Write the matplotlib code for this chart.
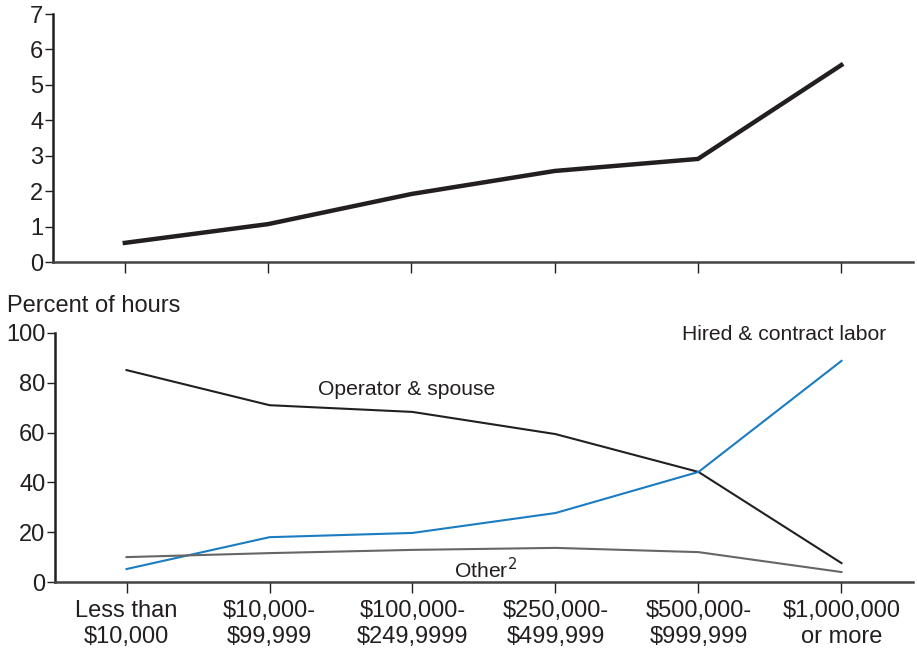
import matplotlib.pyplot as plt

plt.rcParams['font.family'] = ['Liberation Sans', 'DejaVu Sans']

categories = ['Less than\n$10,000', '$10,000-\n$99,999', '$100,000-\n$249,9999',
              '$250,000-\n$499,999', '$500,000-\n$999,999', '$1,000,000\nor more']
top_values = [0.54, 1.07, 1.92, 2.57, 2.91, 5.56]
operator_spouse = [85.1, 71.0, 68.3, 59.4, 44.2, 7.6]
hired_contract = [5.2, 18.0, 19.7, 27.7, 44.2, 88.8]
other = [10.0, 11.6, 12.9, 13.7, 12.0, 4.0]

ink = '#231f20'
x = list(range(len(categories)))

fig = plt.figure(figsize=(9.17, 6.56), dpi=100)

# ---- top panel ----
ax1 = fig.add_axes([0.058, 0.6006, 0.9376, 0.378])
ax1.plot(x, top_values, color=ink, lw=3.2, solid_joinstyle='miter')
ax1.set_xlim(-0.5, 5.5)
ax1.set_ylim(0, 7)
ax1.set_yticks(range(8))
ax1.set_xticks(x)
ax1.set_xticklabels([])

# ---- bottom panel ----
ax2 = fig.add_axes([0.06, 0.1128, 0.9356, 0.3796])
ax2.plot(x, operator_spouse, color=ink, lw=1.5)
ax2.plot(x, hired_contract, color='#1a7cc1', lw=1.5)
ax2.plot(x, other, color='#666666', lw=1.5)
ax2.set_xlim(-0.5, 5.5)
ax2.set_ylim(0, 100)
ax2.set_yticks(range(0, 101, 20))
ax2.set_xticks(x)
ax2.set_xticklabels(categories, fontsize=17, color=ink, linespacing=1.22)

ax2.text(1.96, 77.5, 'Operator & spouse', fontsize=15.2, color=ink, ha='center', va='center')
ax2.text(4.6, 99.5, 'Hired & contract labor', fontsize=15.2, color=ink, ha='center', va='center')
ax2.text(2.51, 5, 'Other$^{2}$', fontsize=15.2, color=ink, ha='center', va='center')
fig.text(0.008, 0.533, 'Percent of hours', fontsize=17, color=ink, ha='left', va='center')

for ax in (ax1, ax2):
    ax.spines['top'].set_visible(False)
    ax.spines['right'].set_visible(False)
    ax.spines['left'].set_linewidth(1.8)
    ax.spines['bottom'].set_linewidth(1.8)
    ax.spines['left'].set_color(ink)
    ax.spines['bottom'].set_color('#444444')
    ax.tick_params(axis='y', direction='out', length=6, width=1, labelsize=17,
                   colors=ink, pad=1)
    ax.tick_params(axis='x', direction='out', length=8, width=1, colors=ink, pad=5)

fig.savefig('out.png', dpi=100)
